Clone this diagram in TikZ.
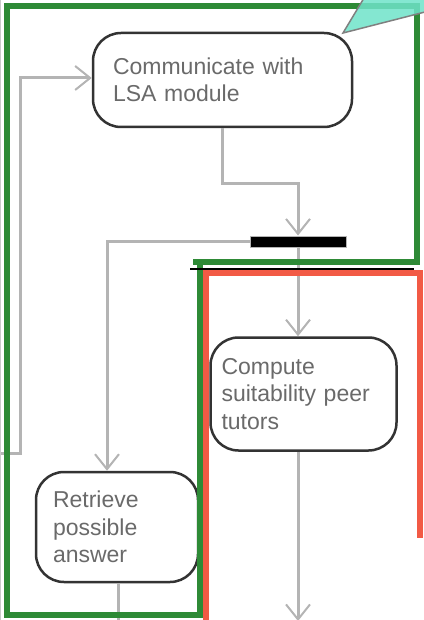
\documentclass[tikz,border=0pt]{standalone}
\usepackage{fontspec}
\setmainfont{Liberation Sans}
\usetikzlibrary{arrows.meta}
\definecolor{lanegreen}{HTML}{2E8A36}
\definecolor{lanered}{HTML}{F25A45}
\definecolor{noteteal}{HTML}{6FE3C9}
\definecolor{flowgray}{HTML}{B4B4B4}
\definecolor{labelgray}{HTML}{6A6A6A}
\begin{document}
\begin{tikzpicture}[x=1pt, y=-1pt,
    activity/.style={draw=black!80, line width=2.5pt, rounded corners=28pt, fill=white, align=left, text=labelgray, font=\fontsize{23}{27.5}\selectfont, inner ysep=0pt},
    flowline/.style={draw=flowgray, line width=3pt},
    flow/.style={flowline, -{Straight Barb[length=15pt,width=24pt,line width=2pt]}}]
    \useasboundingbox (0,0) rectangle (423,620);

    % Acoes
    \node[activity, inner xsep=20pt, text width=219pt, minimum width=259pt, minimum height=94pt] (lsa) at (222.5,80) {Communicate with\\LSA module};
    \node[draw=flowgray, fill=black, line width=1pt, minimum width=96pt, minimum height=11pt, inner sep=0pt] (fork) at (298,241.5) {};
    \node[activity, inner xsep=11pt, text width=164pt, minimum width=186pt, minimum height=113pt] (compute) at (303.5,394) {Compute\\suitability peer\\tutors};
    \node[activity, inner xsep=17pt, text width=128pt, minimum width=162pt, minimum height=110pt] (retrieve) at (117,527) {Retrieve\\possible\\answer};

    % Fluxo
    \coordinate (enter) at (-2,453);
    \coordinate (exit) at (298,621);
    \coordinate (rexit) at (118,625);
    \draw[flow] (lsa.south) -- ++(0,55) -| (fork.north);
    \draw[flow] (fork.west) -| ([xshift=-10pt]retrieve.north);
    \draw[flow] (fork.south) -- (fork.south |- compute.north);
    \draw[flow] (compute.south -| fork.south) -- (exit);
    \draw[flowline] (rexit |- retrieve.south) -- (rexit);
    \draw[flow] (enter) -- ++(22,0) |- ([yshift=2pt]lsa.west);

    % Raias
    \draw[flowgray!70, line width=1pt] (0.5,0) -- (0.5,620);
    \draw[lanegreen, line width=6pt] (193,262) -- (417,262) -- (417,6) -- (7,6) -- (7,615) -- (200,615) -- (200,262);
    \draw[black, line width=1.5pt] (190,269) -- (414,269);
    \draw[lanered, line width=6pt] (206,623) -- (206,273) -- (420,273) -- (420,538);

    % Nota
    \fill[noteteal, fill opacity=0.85] (425,12) -- (343,33) -- (364,-2) -- (425,-2) -- cycle;
    \draw[gray, line width=1.5pt] (425,12) -- (343,33) -- (364,-2);
\end{tikzpicture}
\end{document}
